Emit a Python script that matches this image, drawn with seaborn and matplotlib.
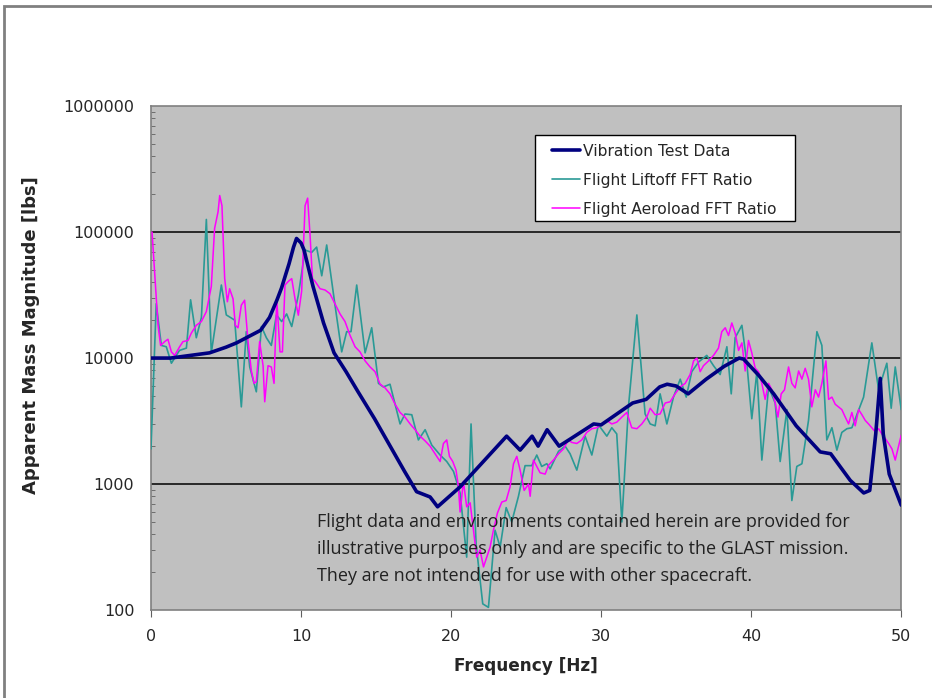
import numpy as np
import pandas as pd
import seaborn as sns
import matplotlib.pyplot as plt
from matplotlib.patches import Rectangle
from matplotlib.ticker import LogLocator, NullFormatter, FixedLocator

# Vibration test data (smooth FRF curve)
vib_freq = [0, 1.3, 3.9, 5.0, 5.7, 6.5, 7.3, 7.9, 8.4, 8.7, 9.0, 9.2, 9.5, 9.7, 10.0, 10.2,
            10.8, 11.5, 12.2, 13.0, 13.8, 14.9, 16.9, 17.7, 18.6, 19.1, 20.6, 23.7, 24.6,
            25.4, 25.8, 26.4, 27.2, 28.0, 29.5, 30.0, 32.1, 33.0, 33.9, 34.4, 35.0, 35.8,
            37.0, 38.2, 39.2, 39.5, 40.5, 41.5, 43.0, 44.6, 45.3, 46.6, 47.5, 47.9, 48.3,
            48.6, 48.8, 49.2, 50.0]
vib_mag = [10000, 10000, 11000, 12200, 13200, 14800, 16600, 21000, 29000, 36000, 47000,
           56000, 76000, 89000, 82000, 72000, 37000, 19000, 11000, 7800, 5400, 3300, 1260,
           870, 790, 660, 950, 2400, 1860, 2400, 2000, 2700, 2000, 2300, 3000, 2950, 4400,
           4700, 5900, 6200, 6000, 5200, 6800, 8600, 10000, 9800, 7300, 5200, 2900, 1800,
           1740, 1070, 850, 890, 2500, 6900, 2500, 1200, 680]

# Flight liftoff FFT ratio
lift_freq = [0.0, 0.35, 0.69, 1.02, 1.36, 1.9, 2.36, 2.64, 3.02, 3.36, 3.69, 4.02, 4.69,
             5.02, 5.58, 6.02, 6.35, 6.58, 7.02, 7.36, 7.69, 8.02, 8.36, 8.71, 9.04, 9.38,
             9.82, 10.27, 10.71, 11.04, 11.38, 11.71, 12.27, 12.71, 13.04, 13.33, 13.71,
             14.27, 14.71, 15.16, 15.49, 15.93, 16.6, 16.93, 17.38, 17.82, 18.27, 18.71,
             19.27, 19.71, 20.16, 20.6, 21.04, 21.33, 21.67, 22.11, 22.49, 22.93, 23.27,
             23.67, 24.04, 24.49, 24.93, 25.38, 25.71, 26.04, 26.38, 26.6, 27.16, 27.6,
             27.93, 28.38, 28.93, 29.38, 29.82, 30.38, 30.71, 31.04, 31.38, 31.82, 32.38,
             32.93, 33.27, 33.6, 33.93, 34.38, 34.82, 35.27, 35.67, 36.04, 36.49, 37.04,
             37.49, 37.93, 38.38, 38.67, 38.93, 39.38, 39.71, 40.04, 40.38, 40.71, 41.16,
             41.6, 41.93, 42.38, 42.71, 43.04, 43.38, 43.82, 44.38, 44.71, 45.04, 45.38,
             45.71, 46.04, 46.38, 46.71, 47.49, 48.04, 48.49, 49.04, 49.33, 49.6, 50.0]
lift_mag = [1900, 27000, 12600, 12300, 9100, 11500, 12000, 29000, 14500, 21000, 126000,
            11000, 38000, 22000, 20000, 4100, 16200, 8500, 5400, 17800, 14500, 12600,
            22000, 19500, 22400, 17800, 31600, 72000, 69000, 76000, 45000, 79000, 26000,
            11200, 16200, 16200, 38000, 11000, 17400, 6300, 5900, 6200, 3000, 3600, 3550,
            2240, 2700, 2040, 1700, 1510, 1260, 850, 263, 3000, 330, 112, 105, 430, 316,
            650, 500, 800, 1400, 1400, 1700, 1380, 1450, 1320, 1820, 2000, 1740, 1290,
            2400, 1700, 2950, 2400, 2800, 2500, 500, 4100, 22000, 3600, 3000, 2900, 5200,
            3000, 4900, 6800, 4900, 7800, 9300, 10500, 8700, 7400, 12300, 5200, 14500,
            18200, 9100, 3300, 7800, 1550, 5900, 4400, 1510, 3900, 740, 1380, 1450, 3200,
            16200, 12600, 2240, 2800, 1860, 2570, 2750, 2800, 4900, 13200, 5600, 9100,
            4000, 8500, 3900]

# Flight aeroload FFT ratio
aero_freq = [0.07, 0.24, 0.47, 0.64, 0.91, 1.13, 1.36, 1.58, 1.91, 2.13, 2.47, 2.69, 3.02,
             3.36, 3.69, 4.02, 4.24, 4.47, 4.58, 4.73, 4.91, 5.09, 5.24, 5.47, 5.62, 5.8,
             6.02, 6.24, 6.47, 6.69, 6.87, 7.02, 7.24, 7.47, 7.58, 7.8, 8.02, 8.2, 8.38,
             8.6, 8.76, 8.93, 9.16, 9.38, 9.6, 9.82, 10.04, 10.27, 10.44, 10.6, 10.76,
             10.93, 11.27, 11.6, 11.93, 12.27, 12.6, 12.93, 13.27, 13.6, 13.93, 14.27, 14.6,
             14.93, 15.27, 15.6, 15.93, 16.27, 16.6, 16.93, 17.27, 17.6, 17.93, 18.27, 18.6,
             18.93, 19.27, 19.49, 19.71, 19.89, 20.11, 20.33, 20.49, 20.6, 20.82, 21.04,
             21.27, 21.49, 21.71, 21.93, 22.16, 22.38, 22.6, 22.82, 23.09, 23.38, 23.67,
             23.93, 24.16, 24.38, 24.6, 24.87, 25.16, 25.27, 25.49, 25.71, 25.93, 26.27,
             26.49, 26.82, 27.16, 27.49, 27.82, 28.04, 28.38, 28.71, 29.04, 29.38, 29.71,
             30.04, 30.38, 30.71, 31.04, 31.38, 31.71, 32.04, 32.38, 32.71, 33.04, 33.27,
             33.6, 33.93, 34.27, 34.6, 34.93, 35.27, 35.6, 35.93, 36.16, 36.38, 36.6, 36.82,
             37.16, 37.49, 37.82, 38.04, 38.27, 38.49, 38.71, 38.93, 39.16, 39.38, 39.6,
             39.82, 40.04, 40.27, 40.49, 40.71, 40.93, 41.16, 41.38, 41.6, 41.78, 42.0,
             42.22, 42.49, 42.71, 42.93, 43.16, 43.38, 43.6, 43.82, 44.04, 44.27, 44.49,
             44.71, 44.98, 45.16, 45.38, 45.6, 45.82, 46.04, 46.27, 46.49, 46.71, 46.93,
             47.16, 47.38, 47.6, 47.82, 48.04, 48.27, 48.49, 48.71, 48.93, 49.16, 49.38,
             49.6, 49.82, 50.0]
aero_mag = [100000, 49000, 18200, 12600, 13500, 14100, 11200, 10500, 12300, 13500, 13800,
            15800, 18200, 19500, 23400, 37000, 107000, 145000, 195000, 162000, 43000,
            28000, 35500, 29500, 18200, 17400, 26300, 28800, 13500, 7900, 6300, 6500,
            13500, 8700, 4500, 8700, 8500, 6300, 29500, 11200, 11200, 38000, 40700, 42700,
            29500, 21900, 33900, 162000, 186000, 95000, 42700, 40700, 35500, 34700, 32400,
            26900, 22400, 19500, 15100, 12300, 11200, 9500, 8500, 7800, 6200, 5800, 5200,
            4300, 3700, 3400, 3000, 2700, 2400, 2200, 2000, 1740, 1510, 2100, 2240, 1660,
            1510, 1290, 950, 600, 1050, 660, 710, 430, 263, 300, 220, 263, 316, 430, 590,
            720, 740, 950, 1450, 1660, 1290, 890, 1000, 800, 1550, 1380, 1230, 1200, 1410,
            1550, 1740, 1900, 2240, 2140, 2100, 2240, 2570, 2750, 2800, 3000, 3200, 3000,
            3100, 3400, 3700, 2800, 2750, 3000, 3400, 4000, 3550, 3600, 4400, 4500, 5200,
            5900, 6300, 7400, 9500, 10000, 7800, 8700, 9500, 10500, 12000, 16200, 17400,
            15100, 19000, 15800, 11500, 13200, 7900, 13800, 11000, 8300, 7800, 6300, 4700,
            6300, 5600, 4400, 3400, 5200, 5600, 8500, 6300, 5800, 7900, 6800, 8300, 6800,
            4100, 5600, 4900, 6300, 9500, 4700, 4900, 4300, 4100, 3900, 3400, 3000, 3700,
            2900, 3900, 3550, 3200, 3000, 2800, 2600, 2750, 2500, 2300, 2100, 1900, 1550,
            2000, 2450]

series_labels = ['Vibration Test Data', 'Flight Liftoff FFT Ratio', 'Flight Aeroload FFT Ratio']

note = ("Flight data and environments contained herein are provided for\n"
        "illustrative purposes only and are specific to the GLAST mission.\n"
        "They are not intended for use with other spacecraft.")

sns.set_style("white")
plt.rcParams['font.family'] = ['DejaVu Sans']

fig = plt.figure(figsize=(9.32, 6.98), dpi=100)
ax = fig.add_axes([0.162, 0.126, 0.805, 0.722])
ax.set_facecolor('#C0C0C0')

vib = pd.DataFrame({'f': vib_freq, 'm': vib_mag})
lift = pd.DataFrame({'f': lift_freq, 'm': lift_mag})
aero = pd.DataFrame({'f': aero_freq, 'm': aero_mag})

sns.lineplot(data=vib, x='f', y='m', ax=ax, color='#000080', lw=2.6,
             label=series_labels[0], zorder=5, sort=False)
sns.lineplot(data=lift, x='f', y='m', ax=ax, color='#2A9A96', lw=1.2,
             label=series_labels[1], zorder=3, sort=False)
sns.lineplot(data=aero, x='f', y='m', ax=ax, color='#FF00FF', lw=1.1,
             label=series_labels[2], zorder=4, sort=False)

ax.set_yscale('log')
ax.set_xlim(0, 50)
ax.set_ylim(100, 1000000)
ax.xaxis.set_major_locator(FixedLocator([0, 10, 20, 30, 40, 50]))
ax.yaxis.set_major_locator(FixedLocator([100, 1000, 10000, 100000, 1000000]))
ax.set_yticklabels(['100', '1000', '10000', '100000', '1000000'])
ax.yaxis.set_minor_locator(LogLocator(base=10, subs=np.arange(2, 10)))
ax.yaxis.set_minor_formatter(NullFormatter())
for yv in [1000, 10000, 100000]:
    ax.axhline(yv, color='black', lw=1.1, zorder=2)

ax.tick_params(axis='y', which='major', direction='in', length=4, color='#606060',
               labelsize=11.5, pad=12)
ax.tick_params(axis='y', which='minor', direction='in', length=3, color='#606060', left=True)
ax.tick_params(axis='x', which='major', direction='out', length=5, color='#606060',
               labelsize=11.5, pad=9, bottom=True)
for s in ax.spines.values():
    s.set_color('#808080')
    s.set_linewidth(1.2)

ax.set_xlabel('Frequency [Hz]', fontsize=12.2, fontweight='bold')
ax.set_ylabel('Apparent Mass Magnitude [lbs]', fontsize=13, fontweight='bold')
ax.xaxis.set_label_coords(0.5, -0.093)
ax.yaxis.set_label_coords(-0.148, 0.545)

# legend: text without frame, plus a plain square box like the original
leg = ax.legend(loc='upper left', bbox_to_anchor=(0.535, 0.925), fontsize=11.2,
                frameon=False, handlelength=1.8, handletextpad=0.15, labelspacing=0.9,
                borderpad=0, borderaxespad=0)
ax.add_patch(Rectangle((0.512, 0.772), 0.347, 0.170, transform=ax.transAxes,
                       facecolor='white', edgecolor='black', lw=1.0, zorder=6))
leg.set_zorder(7)

ax.text(0.221, 0.192, note, transform=ax.transAxes, ha='left', va='top',
        fontsize=13, family=['Open Sans', 'DejaVu Sans'], color='#222222',
        linespacing=1.62, zorder=6)

# outer chart frame
fig.patches.append(Rectangle((0.0043, -0.05), 1.1, 1.0414, transform=fig.transFigure,
                             fill=False, edgecolor='#808080', lw=2, clip_on=False))

fig.savefig('out.png', dpi=100, facecolor='white')
